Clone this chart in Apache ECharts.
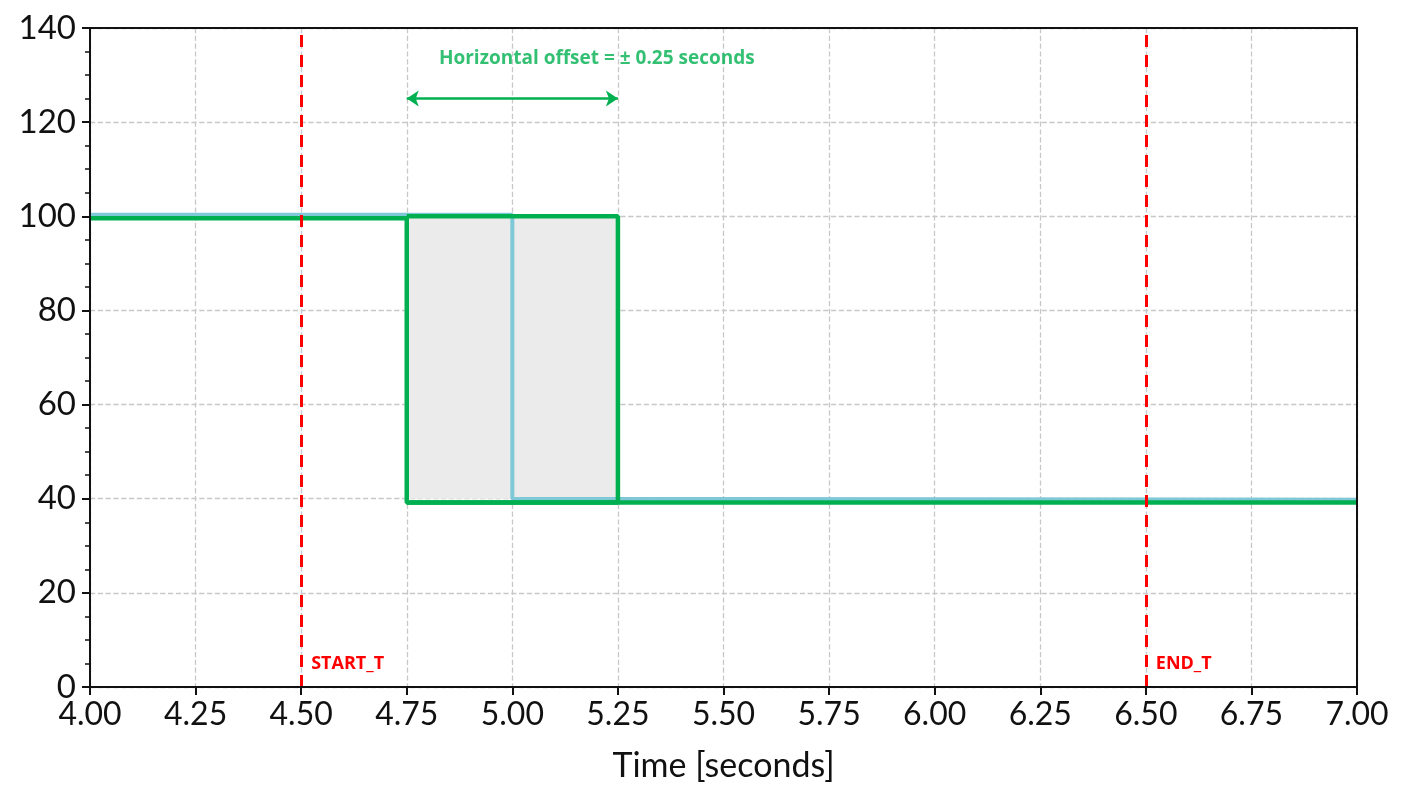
<!DOCTYPE html>
<html><head><meta charset="utf-8">
<script src="https://cdn.jsdelivr.net/npm/echarts@6/dist/echarts.min.js"></script>
<style>html,body{margin:0;padding:0;background:#fff}#c{width:1404px;height:810px}</style>
</head><body><div id="c"></div>
<script>
const blueX = [4.0, 5.0, 5.0, 7.0];
const blueY = [100.3, 100.3, 40, 39.8];
const greenX = [4.0, 4.75, 4.75, 7.0];
const greenY = [99.6, 99.6, 39.2, 39.2];
const boxX = [4.75, 5.25, 5.25, 4.75];
const boxY = [100, 100, 39.2, 39.2];
const shadeRange = [4.75, 5.25, 40, 100];
const refLines = [4.5, 6.5];
const refLabels = ['START_T', 'END_T'];
const arrowRange = [4.75, 5.25, 125];
const offsetText = 'Horizontal offset = ± 0.25 seconds';

const pairs = (xs, ys) => xs.map((x, i) => [x, ys[i]]);
const font = 'Lato';
const chart = echarts.init(document.getElementById('c'));
chart.setOption({
  animation: false,
  grid: {left: 90, right: 47, top: 28, bottom: 123},
  xAxis: {
    type: 'value', min: 4, max: 7, interval: 0.25,
    name: 'Time [seconds]', nameLocation: 'middle', nameGap: 62,
    nameTextStyle: {fontSize: 34, color: '#111', fontFamily: font},
    axisLine: {lineStyle: {color: '#111', width: 2}},
    axisTick: {show: true, length: 8, lineStyle: {color: '#111', width: 2}},
    axisLabel: {fontSize: 32, color: '#111', fontFamily: font, margin: 12, formatter: v => v.toFixed(2)},
    splitLine: {show: true, lineStyle: {type: 'dashed', color: '#c8c8c8', width: 1.3}}
  },
  yAxis: {
    type: 'value', min: 0, max: 140, interval: 20,
    axisLine: {show: true, lineStyle: {color: '#111', width: 2}},
    axisTick: {show: true, length: 8, lineStyle: {color: '#111', width: 2}},
    minorTick: {show: true, splitNumber: 4, length: 5, lineStyle: {color: '#111', width: 1.5}},
    axisLabel: {fontSize: 33, color: '#111', fontFamily: font, margin: 14},
    splitLine: {show: true, lineStyle: {type: 'dashed', color: '#c8c8c8', width: 1.3}}
  },
  graphic: [{type: 'rect', shape: {x: 90, y: 28, width: 1267, height: 659}, style: {fill: 'none', stroke: '#111', lineWidth: 2}, z: 100}],
  series: [
    {
      type: 'line', data: pairs(blueX, blueY), symbol: 'none', z: 3,
      lineStyle: {color: '#7ec8d8', width: 4},
      markArea: {silent: true, itemStyle: {color: '#ebebeb'}, data: [[{coord: [shadeRange[0], shadeRange[2]]}, {coord: [shadeRange[1], shadeRange[3]]}]]}
    },
    {type: 'line', data: pairs(greenX, greenY), symbol: 'none', z: 4, lineStyle: {color: '#00b050', width: 4.5}},
    {type: 'line', data: pairs(boxX, boxY), symbol: 'none', z: 4, lineStyle: {color: '#00b050', width: 4.5}},
    {
      type: 'line', data: [], z: 5,
      markLine: {
        silent: true, symbol: 'none', label: {show: false},
        lineStyle: {color: '#ff0000', type: [12, 8], width: 3},
        data: refLines.map(x => ({xAxis: x}))
      }
    },
    {
      type: 'line', data: [], z: 5,
      markLine: {
        silent: true, symbol: ['arrow', 'arrow'], symbolSize: 12, label: {show: false},
        lineStyle: {color: '#00b050', type: 'solid', width: 2.5},
        data: [[{coord: [arrowRange[0], arrowRange[2]]}, {coord: [arrowRange[1], arrowRange[2]]}]]
      }
    },
    {
      type: 'scatter', symbolSize: 0, z: 6, silent: true,
      itemStyle: {opacity: 1},
      data: refLines.map((x, i) => ({value: [x, 5], label: {formatter: refLabels[i]}})),
      label: {show: true, position: 'right', distance: 10, color: '#ff0000', fontWeight: 'bold', fontSize: 18, fontFamily: 'Open Sans'}
    },
    {
      type: 'scatter', symbolSize: 0, z: 6, silent: true,
      data: [{value: [5.2, 133.5], label: {formatter: offsetText}}],
      label: {show: true, position: 'inside', color: '#00b050', fontWeight: 'bold', fontSize: 19, fontFamily: 'Open Sans'}
    }
  ]
});
</script></body></html>
